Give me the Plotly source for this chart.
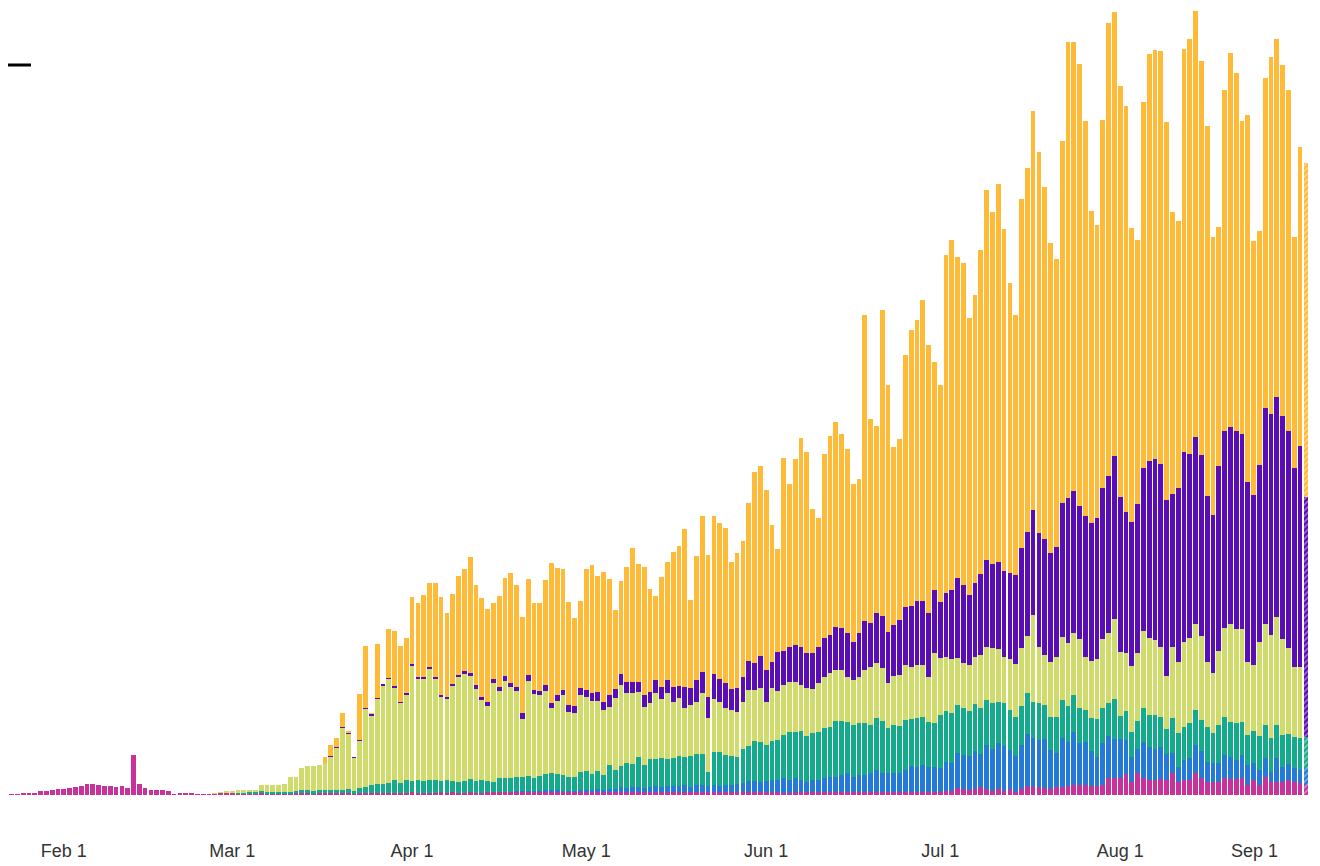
import pandas as pd
import plotly.graph_objects as go

start_date = "2020-01-22"

pink = ([0.3,0.5,0.7,1.2,1.5,1.5,4.3,4.3,5,5.7,6,6.7,7.7,9,10.7,10.7,9.7,9.3,9,8,9,6.7,40,11,6.7,5.3,5,5,4.5,0.3,2.5,2.5,1.5,0.8,1,1]
        + [1.5,2,2,2,1.5,1.5,1.5,1.5,2,1.5,1.5,1.5,1.5,1.5,2,2,2,1.5,2,2,2,2]
        + [2,2,1.5,2,2,2,2,2,2.5,2.5,2.5,2.5,3,2.5,2.5,2.5,2.5,3,2.5,3,2.5,2.5,3,2.5,2.5,3,3,3,3,3,3,3,3,3,3,3,3,3]
        + [3]*38
        + [2.5,2.5,3,3,3,3,3,3,3,3,3,3,3,3,3,3,3,3,3,3,3,3,3,3,3,3,3,3,4,4]
        + [7,6,5,6,8,6,4,6,4,6,3,6,9,8,8,7,6,8,8,9,10,10,10,9,9,10,17,17,17,21,13,22]
        + [17,15,15,16,15,22,13,15,15,22,17,13,13,13,17,16,16,17,10,15,10,18,13,13,13,15,13,12,10])

blue = ([0]*85
        + [0.5,0.5,0.5,1,1,1,1,1.5,2,2,2]
        + [1,1,1,2,2,2,3,2,3,3,5,4,5,5,4,5,6,5,6,6,6,7,5,7,7,6,7,6,7,7,8,9,11,11,10,11,12,12]
        + [14.5,12.5,14,12,10,12,12,14,15,15,17,19,15,17,17,19,22,19,19,19,19,22,26,25,27,25,25,24,29,28]
        + [35,34,34,38,33,44,42,46,45,39,36,44,52,49,47,49,39,34,49,44,53,42,43,35,29,42,42,39,39,34,25,24]
        + [36,33,31,32,26,20,15,20,22,28,27,20,19,19,23,22,19,23,20,17,15,19,10,24,15,16,14,13,17])

teal = ([0]*38
        + [0.3,0.5,1,1,1.5,1.5,2,1.5,2,1.5,2,1.5,2,3,3,2.5,3,3,3,3]
        + [3,4,2.5,5,6,8,9,9,9.5,12.5,9.5,12.5,11,12.5,11.5,12.5,12.5,11,12.5,11,10.5,11.5,13,11.5,12.5,11,10,13.5,13.5,13.5,14,14,15,13,14.5,16,17,16]
        + [16,14,14,18,19,16,18,15,24,19,21,25,23,30,23,28,27,29,27,28,30,28,31,31,31,14,33,34,30,29,27,34,35,40,40,36,39,40]
        + [43,48,46,49,46,47,48,50,50,56,54,51,52,52,52,48,52,52,45,48,47,50,47,49,48,45,44,53,51,50]
        + [48,47,45,47,46,45,46,41,43,40,39,39,41,36,37,34,33,36,38,36,37,35,32,33,38,35,33,40,23,29,25,28]
        + [34,32,34,30,25,35,34,33,35,35,31,35,30,38,38,35,37,33,30,32,34,33,34,33,32,30,31,32,31])

green = ([0]*36
         + [0.5,1,1,1,2.5,2.5,2.5,2.5,6,7,6.5,7,7.5,15,14,22,24,25,25,27,33.5,42.5]
         + [62.5,55,33,47,78,69.5,85,98.5,104,92,80,85.5,115,101.5,102.5,111,101.5,84,81.5,95,105,107.5,103.5,92.5,80,75,99,87,97.5,91,86,58,95,84,81,83,65,73]
         + [80,65,64,77,74,73,70,65,58,72,81,70,71,65,58,56,66,59,66,56,58,49,51,52,61,54,53,50,47,46,45,47,56,51,54,43,53,49]
         + [50,50,50,46,48,44,49,51,54,51,51,45,45,46,53,58,55,53,45,49,51,55,52,53,52,45,70,57,54,54]
         + [47,45,46,47,53,53,55,53,46,51,53,58,57,87,56,50,55,60,63,63,62,69,53,57,60,69,70,80,64,58,66,68]
         + [77,77,75,70,53,71,71,85,85,86,84,65,60,74,89,98,94,93,73,66,94,101,103,108,96,86,70,71,0])

purple = ([0]*55
          + [0.3,0.5,0.5]
          + [0.5,1,1,1,1,1.5,1,1.5,1,2,1,1.5,2,1.5,1.5,2,1.5,2,1.5,2,2,2.5,2.5,3.5,3,4,4,4,4.5,4,4,6,6,4,4,6,5,6]
          + [5,7,7,7,7,8,9,8,12,9,11,11,11,10,12,11,13,12,13,15,12,21,17,22,21,21,25,23,25,21,24,25,29,27,32,32,26,39]
          + [34,35,37,38,35,36,36,39,38,43,42,44,38,44,49,44,50,52,51,51,55,58,61,64,64,64,63,56,64,69]
          + [80,78,70,74,81,87,84,87,86,86,89,100,104,105,114,116,109,110,134,145,142,133,141,138,141,151,157,163,155,141,144,149]
          + [163,177,181,183,176,153,174,190,184,187,181,166,158,185,197,197,198,195,180,170,177,216,221,220,223,217,199,221,240])

yellow = ([0]*55
          + [5.7,11,9]
          + [14,2,0,46,62,1,54,0,49,55,56,55,67,74,82,84,94,98,84,90,99,102,116,100,99,93,76,91,98,110,102,96,96,87,88,105,140,127]
          + [121,103,88,87,121,128,116,130,116,79,93,115,134,118,128,103,84,110,118,135,140,158,88,124,156,142,158,156,155,127,135,136,158,191,190,180,137,103]
          + [193,163,186,209,201,144,129,184,199,205,194,184,158,154,306,204,187,306,247,178,181,252,276,281,301,268,228,217,338,350]
          + [321,322,277,288,324,370,352,378,342,290,260,349,364,399,381,352,310,288,362,456,449,442,395,312,293,368,453,444,411,406,294,264]
          + [366,407,409,413,378,282,267,403,415,426,394,370,278,239,341,374,358,313,367,254,234,330,357,358,351,341,231,299,334])

tick_dates = ["2020-02-01", "2020-03-01", "2020-04-01", "2020-05-01", "2020-06-01", "2020-07-01", "2020-08-01"]
tick_labels = ["Feb 1", "Mar 1", "Apr 1", "May 1", "Jun 1", "Jul 1", "Aug 1"]
last_label_date = "2020-09-01"
last_label = "Sep 1"

series = [
    ("pink", pink, "#c7339b"),
    ("blue", blue, "#2479d9"),
    ("teal", teal, "#14aa8c"),
    ("green", green, "#cfdc6b"),
    ("purple", purple, "#5a0db5"),
    ("yellow", yellow, "#ffba37"),
]

n = len(yellow)
dates = pd.date_range(start_date, periods=n, freq="D")
pattern = [""] * (n - 1) + ["/"]

fig = go.Figure()
for name, vals, col in series:
    assert len(vals) == n, (name, len(vals))
    fig.add_trace(go.Bar(
        x=dates, y=vals, name=name,
        marker=dict(color=col, line=dict(width=0),
                    pattern=dict(shape=pattern, fgcolor="white", size=4,
                                 solidity=0.35, fillmode="overlay")),
        showlegend=False,
    ))

font_family = "Liberation Sans, Arial, sans-serif"

# page body has an 8px margin: figure origin sits at (8, 8) in the window
fig.update_layout(
    width=1312, height=858,
    barmode="stack", bargap=0.18,
    margin=dict(l=0, r=0, t=0, b=71, autoexpand=False),
    paper_bgcolor="white", plot_bgcolor="white",
    xaxis=dict(
        type="date",
        range=["2020-01-22 09:06", "2020-09-04 10:20"],
        tickvals=tick_dates, ticktext=tick_labels,
        ticks="outside", ticklen=39, tickcolor="rgba(0,0,0,0)",
        tickfont=dict(family=font_family, size=18, color="#333333"),
        showgrid=False, zeroline=False, showline=False, automargin=False,
    ),
    yaxis=dict(range=[0, 787], visible=False, showgrid=False, zeroline=False),
)

fig.add_annotation(
    x=last_label_date, y=0, xref="x", yref="paper",
    text=last_label, showarrow=False, xanchor="right", yanchor="top",
    xshift=-20, yshift=-44,
    font=dict(family=font_family, size=18, color="#333333"),
)

fig.add_shape(type="line", xref="paper", yref="paper",
              x0=0, x1=23 / 1312, y0=1 - 57 / 787, y1=1 - 57 / 787,
              line=dict(color="black", width=3))

fig.write_html("out.html")
